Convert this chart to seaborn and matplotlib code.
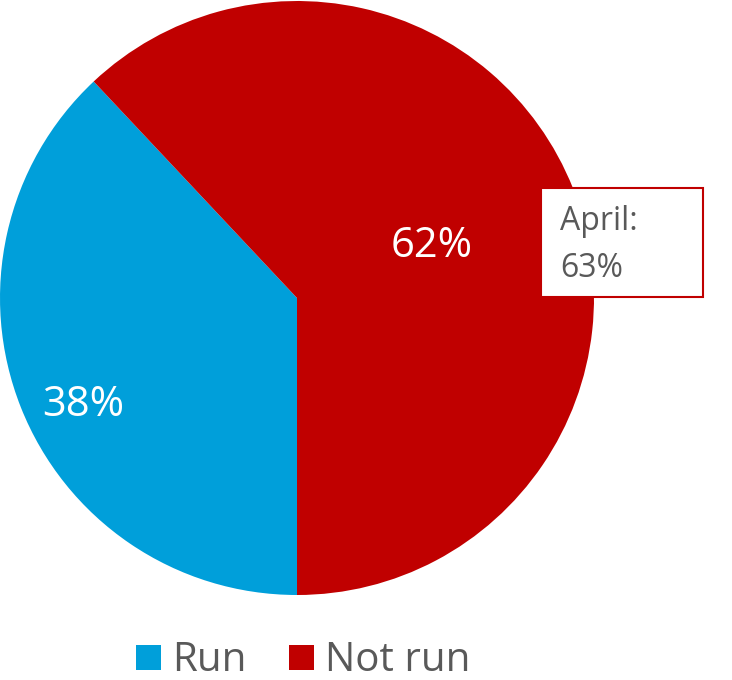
import matplotlib
matplotlib.use("Agg")
import matplotlib.pyplot as plt
from matplotlib.lines import Line2D
from matplotlib.patches import Rectangle
import seaborn as sns

sns.set_theme(style="white")
plt.rcParams['font.family'] = ['Open Sans', 'DejaVu Sans']

# data
labels = ['Run', 'Not run']
shares = [38, 62]
colors = ['#009FDA', '#C00000']
callout_label = 'April:'
callout_value = '63%'

fig = plt.figure(figsize=(7.32, 6.8), dpi=100)
ax = fig.add_axes([0.0, 0.125, 594 / 732, 594 / 680])

wedges, texts, autotexts = ax.pie(
    shares, colors=colors, startangle=-90, counterclock=False,
    autopct='%d%%', pctdistance=0.6, radius=1,
    wedgeprops=dict(linewidth=0),
    textprops=dict(color='white', fontsize=30),
)
# move the percentage labels to where they sit in the original
autotexts[0].set_position((-0.72, -0.36))
autotexts[1].set_position((0.455, 0.175))

ax.set_xlim(-1, 1)
ax.set_ylim(-1, 1)
ax.set_aspect('equal')
ax.axis('off')

# callout box for April
ax.add_patch(Rectangle((0.822, 0.003), 0.545, 0.367, facecolor='white',
                       edgecolor='#C00000', linewidth=1.5, clip_on=False, zorder=5))
ax.text(0.886, 0.258, callout_label, color='#595959', fontsize=23,
        va='center', ha='left', zorder=6)
ax.text(0.886, 0.10, callout_value, color='#595959', fontsize=23,
        va='center', ha='left', zorder=6)

handles = [Line2D([0], [0], marker='s', linestyle='', markersize=18,
                  markerfacecolor=c, markeredgewidth=0) for c in colors]
fig.legend(handles, labels, loc='lower center', bbox_to_anchor=(300 / 732, -0.055),
           ncol=2, frameon=False, fontsize=29, labelcolor='#595959',
           handletextpad=0.15, columnspacing=0.9, handlelength=0.9)

fig.savefig('out.png', dpi=100)
